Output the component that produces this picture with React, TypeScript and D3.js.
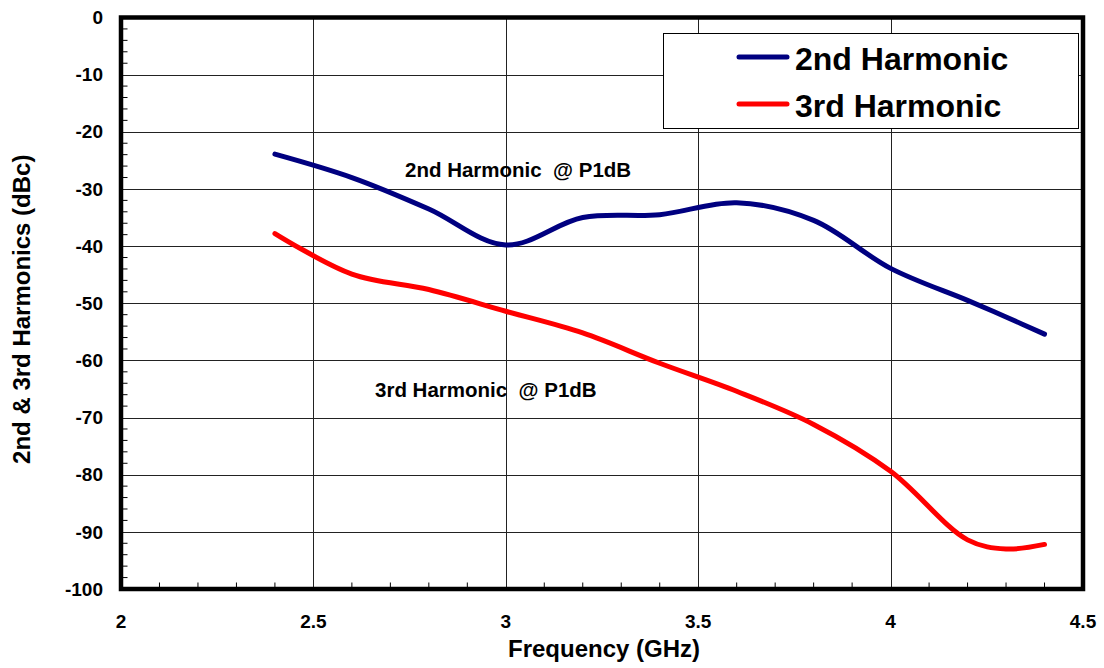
import React from "react";
import * as d3 from "d3";

const freqs = [2.4, 2.6, 2.8, 3.0, 3.2, 3.4, 3.6, 3.8, 4.0, 4.2, 4.3, 4.4];
const second = [-23.9, -28.0, -33.5, -39.8, -35.0, -34.5, -32.4, -35.5, -43.9, -49.5, -52.4, -55.4];
const third = [-37.8, -44.9, -47.6, -51.4, -55.2, -60.5, -65.4, -71.2, -79.4, -91.4, -93.0, -92.2];

const xTicks = [2, 2.5, 3, 3.5, 4, 4.5];
const yTicks = [0, -10, -20, -30, -40, -50, -60, -70, -80, -90, -100];
const seriesNames = ["2nd Harmonic", "3rd Harmonic"];
const annotations = ["2nd Harmonic  @ P1dB", "3rd Harmonic  @ P1dB"];

const W = 1104;
const H = 668;
const left = 121;
const right = 1083;
const top = 17.5;
const bottom = 589;
const font = "Arial, 'Liberation Sans', Helvetica, sans-serif";

export default function App() {
  const x = d3.scaleLinear().domain([2, 4.5]).range([left, right]);
  const y = d3.scaleLinear().domain([-100, 0]).range([bottom, top]);

  const line = d3
    .line<number>()
    .x((_, i) => x(freqs[i]))
    .y((d) => y(d))
    .curve(d3.curveCatmullRom.alpha(0.5));

  const xMinor = d3.range(2, 4.5001, 0.1).filter((v) => Math.abs(v * 2 - Math.round(v * 2)) > 1e-6);
  const yMinor = d3.range(-100, 0.001, 2).filter((v) => Math.abs(v % 10) > 1e-6);

  return (
    <svg width={W} height={H} style={{ position: "absolute", left: 0, top: 0, background: "#fff" }} fontFamily={font}>
      <rect x={0} y={0} width={W} height={H} fill="#fff" />
      {yTicks.slice(1, -1).map((t) => (
        <line key={"gy" + t} x1={left} x2={right} y1={Math.round(y(t)) + 0.5} y2={Math.round(y(t)) + 0.5} stroke="#222" strokeWidth={1} />
      ))}
      {xTicks.slice(1, -1).map((t) => (
        <line key={"gx" + t} y1={top} y2={bottom} x1={Math.round(x(t)) + 0.5} x2={Math.round(x(t)) + 0.5} stroke="#222" strokeWidth={1} />
      ))}
      {xMinor.map((t) => (
        <line key={"mx" + t} x1={x(t)} x2={x(t)} y1={bottom} y2={bottom - 6.5} stroke="#000" strokeWidth={1} />
      ))}
      {yMinor.map((t) => (
        <line key={"my" + t} x1={left} x2={left + 6.5} y1={y(t)} y2={y(t)} stroke="#000" strokeWidth={1} />
      ))}
      <path d={line(second) || ""} fill="none" stroke="#000080" strokeWidth={5} strokeLinecap="round" strokeLinejoin="round" />
      <path d={line(third) || ""} fill="none" stroke="#FF0000" strokeWidth={5} strokeLinecap="round" strokeLinejoin="round" />
      <rect x={left} y={top} width={right - left} height={bottom - top} fill="none" stroke="#000" strokeWidth={4.5} />
      {yTicks.map((t) => (
        <text key={"ty" + t} x={103} y={y(t)} dy="0.35em" textAnchor="end" fontSize={19} fontWeight="bold">
          {t}
        </text>
      ))}
      {xTicks.map((t) => (
        <text key={"tx" + t} x={x(t)} y={628} textAnchor="middle" fontSize={19} fontWeight="bold">
          {t}
        </text>
      ))}
      <text x={(left + right) / 2 + 2} y={657} textAnchor="middle" fontSize={24} fontWeight="bold">
        Frequency (GHz)
      </text>
      <text transform={`translate(30, ${(top + bottom) / 2 + 6}) rotate(-90)`} textAnchor="middle" fontSize={24} fontWeight="bold">
        2nd &amp; 3rd Harmonics (dBc)
      </text>
      <text x={405} y={177} fontSize={20.5} fontWeight="bold" style={{ whiteSpace: "pre" }}>
        {annotations[0]}
      </text>
      <text x={375} y={397} fontSize={20.5} fontWeight="bold" style={{ whiteSpace: "pre" }}>
        {annotations[1]}
      </text>
      <rect x={663.5} y={33.5} width={415} height={95} fill="#fff" stroke="#000" strokeWidth={1} />
      <line x1={739} x2={787} y1={57} y2={57} stroke="#000080" strokeWidth={5} strokeLinecap="round" />
      <text x={795} y={70} fontSize={32} fontWeight="bold">
        {seriesNames[0]}
      </text>
      <line x1={739} x2={787} y1={104} y2={104} stroke="#FF0000" strokeWidth={5} strokeLinecap="round" />
      <text x={795} y={117} fontSize={32} fontWeight="bold">
        {seriesNames[1]}
      </text>
    </svg>
  );
}
